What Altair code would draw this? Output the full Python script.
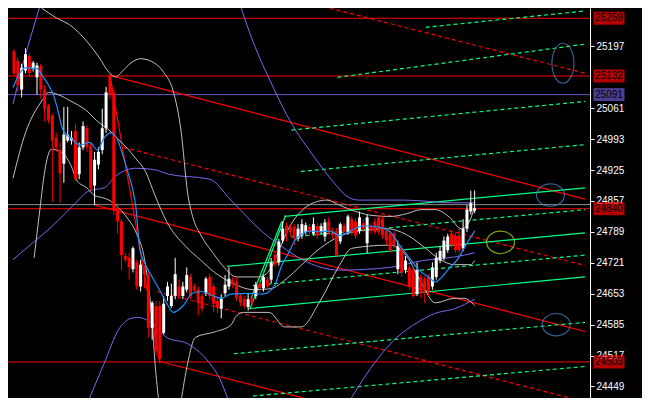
import altair as alt
import pandas as pd

# ---------------- candles (index, OHLC) ----------------
opens = [25186,25165,25102,25144,25176,25148,25129,25155,25102,25066,25045,24996,24969,24939,24990,24990,25011,24916,24975,25017,
         24979,24891,24937,24969,25017,25134,25096,24842,24812,24736,24732,24707,24722,24669,24711,24694,24578,24626,24626,24567,
         24648,24626,24648,24669,24648,24662,24690,24669,24662,24648,24654,24690,24669,24637,24620,24654,24669,24684,24679,24648,
         24641,24624,24643,24648,24675,24665,24684,24684,24738,24722,24770,24802,24800,24800,24774,24781,24789,24800,24785,24802,
         24791,24779,24812,24791,24791,24768,24802,24789,24817,24812,24791,24808,24764,24802,24812,24821,24817,24791,24785,24785,
         24707,24753,24705,24711,24705,24652,24690,24686,24690,24669,24690,24726,24732,24749,24785,24781,24781,24753,24796,24834,
         24836]
highs = [25191,25172,25159,25193,25182,25165,25161,25159,25112,25070,25049,25007,24986,25064,25064,25011,25028,24986,25032,25024,
         24986,24965,24975,25060,25108,25136,25102,24848,24817,24743,24743,24757,24728,24728,24715,24700,24637,24637,24637,24648,
         24679,24675,24732,24684,24679,24711,24696,24675,24669,24654,24690,24696,24675,24643,24652,24694,24711,24690,24690,24654,
         24648,24654,24652,24679,24681,24694,24690,24732,24745,24774,24812,24810,24806,24806,24806,24817,24810,24806,24821,24808,
         24808,24817,24821,24798,24798,24810,24808,24827,24823,24819,24834,24817,24827,24808,24819,24827,24823,24798,24791,24791,
         24770,24760,24736,24717,24711,24722,24696,24692,24696,24722,24743,24757,24779,24785,24791,24787,24796,24817,24848,24880,
         24880]
lows = [25134,25096,25085,25138,25129,25142,25091,25081,25032,25028,24855,24965,24853,24897,24986,24981,24901,24905,24969,24965,
        24880,24848,24927,24960,25007,25081,24827,24785,24705,24722,24684,24700,24662,24658,24665,24557,24552,24517,24504,24563,
        24637,24622,24641,24641,24641,24656,24641,24656,24605,24614,24648,24641,24612,24610,24599,24648,24662,24665,24637,24626,
        24620,24616,24626,24641,24656,24658,24662,24675,24711,24715,24764,24768,24779,24760,24768,24774,24783,24783,24781,24774,
        24785,24768,24783,24774,24736,24762,24783,24783,24783,24774,24785,24789,24743,24785,24783,24783,24774,24760,24743,24753,
        24696,24690,24698,24662,24643,24648,24643,24633,24648,24662,24684,24720,24726,24743,24753,24743,24743,24747,24789,24827,
        24830]
closes = [25138,25112,25150,25180,25138,25161,25155,25102,25060,25036,24990,24975,24918,25003,25003,24996,24905,24975,25022,24975,
          24884,24948,24965,25017,25096,25091,24838,24812,24738,24728,24711,24753,24669,24717,24696,24578,24633,24527,24510,24631,
          24669,24648,24696,24648,24669,24694,24648,24662,24633,24620,24686,24648,24631,24622,24643,24673,24686,24673,24643,24633,
          24626,24641,24633,24673,24665,24690,24669,24722,24717,24768,24796,24785,24789,24774,24796,24806,24804,24789,24806,24781,
          24802,24810,24789,24781,24738,24806,24789,24823,24789,24781,24821,24796,24821,24791,24789,24789,24781,24770,24749,24760,
          24757,24700,24726,24669,24648,24705,24654,24662,24658,24711,24732,24747,24770,24779,24760,24749,24749,24796,24838,24852,
          24841]

candles = pd.DataFrame({"i": list(range(len(opens))), "open": opens, "high": highs, "low": lows, "close": closes})
candles["dir"] = ["up" if c >= o else "down" for o, c in zip(opens, closes)]

# ---------------- moving average (blue) ----------------
ma_i = [-0.25,1.5,3,6,7.25,9,10.25,11.5,12.75,14.75,17.25,19.75,21.75,23.5,25.25,26.75,28.5,29.75,31,31.75,32.75,
        34.25,36,37.75,39.75,41.5,44,46.5,49,52,54,56.5,61.5,64.75,66.5,68,69.75,71.5,73,74.75,77.25,79.75,82.25,84.75,87.25,
        89.75,92.25,94.75,98,100.5,103,105.5,108,109.75,111.5,113,115.5,118,120]
ma_p = [25106,25138,25150,25148,25134,25112,25091,25055,25013,24996,24980,24986,24969,24996,25007,24996,24954,24918,24880,24844,
        24753,24717,24690,24664,24633,24612,24626,24654,24658,24648,24643,24652,24654,24652,24658,24673,24715,24742,24768,24783,
        24791,24789,24791,24781,24789,24800,24802,24800,24789,24759,24732,24705,24690,24679,24690,24705,24728,24764,24791]
ma = pd.DataFrame({"i": ma_i, "p": ma_p})

# ---------------- band curves (purple = slow bands, grey = fast bands) ----------------
band_grp, band_i, band_p = [], [], []
def add(name, idx, prices):
    band_grp.extend([name] * len(idx)); band_i.extend(idx); band_p.extend(prices)

add("pu_up_a", [-0.25, 2.25, 4.75, 7], [25070, 25155, 25229, 25292])
add("pu_up_b", [58.75, 62.25, 67.25, 72.25, 77.25, 81, 84, 86.5, 89.75, 101.5, 114.75, 120],
    [25292, 25208, 25112, 25028, 24965, 24922, 24891, 24869, 24859, 24859, 24853, 24853])
add("pu_mid", [-0.25, 4.75, 9.75, 13.5, 15.5, 19.75, 23.5, 26.5, 31.75, 36.5, 40.25, 51, 56.5, 64.75, 69.75, 76.5, 84.75, 98, 106.5, 114.75, 120],
    [24728, 24764, 24800, 24831, 24848, 24880, 24886, 24912, 24929, 24926, 24916, 24905, 24859, 24789, 24757, 24722, 24705, 24711, 24726, 24734, 24743])
add("pu_lo_a", [19.25, 23.5, 27.25, 30.5, 32.25, 35.5, 39.75, 45.5, 51, 53.5, 56],
    [24415, 24500, 24574, 24599, 24601, 24591, 24557, 24542, 24500, 24468, 24415])
add("pu_lo_b", [87.25, 94.75, 99.75, 104.75, 109.75, 114.75, 120],
    [24415, 24510, 24557, 24588, 24610, 24620, 24641])
add("gr_up", [7.25, 11, 14.75, 19, 22.25, 24.75, 26.5, 28.5, 30.5, 33, 36.5, 39, 41.5, 43.5, 45.25, 46.75, 48.5, 52.25, 54.75, 58, 64,
              66.75, 69.25, 71.75, 74.75, 78, 81.5, 84.75, 89, 93.5, 98, 102.25, 106, 109.75, 113.5, 116.5, 118.25, 120],
    [25281, 25260, 25243, 25208, 25172, 25140, 25130, 25145, 25161, 25170, 25161, 25140, 25098, 25013, 24874, 24817, 24785, 24738, 24711, 24690, 24690,
     24707, 24753, 24800, 24834, 24853, 24859, 24848, 24834, 24825, 24823, 24829, 24838, 24838, 24821, 24796, 24806, 24844])
add("gr_mid", [-0.25, 3, 7.25, 9, 11.5, 14.75, 19, 21.5, 24.75, 27.25, 29.75, 31.75, 34.25, 36.75, 39.75, 44.75, 48.5, 52.25, 57.25, 62.25,
               66.75, 71, 74.75, 79.75, 84.75, 89.75, 97.25, 102.25, 107.25, 111, 114.75, 119, 120],
    [24907, 25007, 25077, 25096, 25091, 25077, 25055, 25034, 25013, 24992, 24971, 24950, 24922, 24869, 24812, 24757, 24728, 24700, 24675, 24662,
     24664, 24686, 24715, 24753, 24779, 24791, 24796, 24783, 24753, 24728, 24717, 24717, 24726])
add("gr_lo", [5.25, 6.75, 8, 9.75, 12.25, 14.75, 16.5, 19, 21, 22.75, 24.75, 27.25, 29.75, 31.75, 34.25, 36, 36.75, 37.75],
    [24732, 24838, 24922, 24971, 24965, 24937, 24901, 24886, 24869, 24865, 24859, 24842, 24817, 24789, 24717, 24591, 24500, 24415])
add("gr_lo_b", [43.5, 45.25, 47.25, 52.25, 56.5, 58, 59.75, 66.5, 70.5, 74.75, 79.75, 84.75, 88, 98, 102.25, 106, 109.75, 114.75, 117.25, 120],
    [24415, 24500, 24557, 24569, 24584, 24605, 24612, 24612, 24580, 24580, 24637, 24715, 24753, 24760, 24736, 24679, 24633, 24643, 24643, 24627])
band_col = {"pu": "#7b68ee", "gr": "#c0c0c0"}
bands = pd.DataFrame({"g": band_grp, "i": band_i, "p": band_p})
bands["c"] = [band_col[g[:2]] for g in band_grp]

# ---------------- straight objects (trend lines / channels) ----------------
seg_i1 = [24.75, 25.0, 21.0, 38.0, 82.25, 28.5, 37.25,
          70.5, 55.5, 61.0, 61.5, 61.75,
          107.25, 84.25, 72.25, 74.75, 72.25, 62.25, 57.25, 62.25]
seg_p1 = [25134, 25134, 24848, 24504, 25281, 24975, 24658,
          24823, 24713, 24620, 24620, 24643,
          25239, 25129, 25013, 24922, 24778, 24671, 24521, 24428]
seg_i2 = [148.75, 38.0, 148.75, 148.75, 148.75, 148.75, 148.75,
          148.75, 148.75, 148.75, 70.75, 69.75,
          148.75, 148.75, 148.75, 148.75, 148.75, 148.75, 148.75, 148.75]
seg_p2 = [24861, 24500, 24570, 24266, 25138, 24715, 24415,
          24886, 24787, 24690, 24825, 24812,
          25275, 25202, 25076, 24981, 24838, 24738, 24590, 24493]
seg_kind = ["red", "red", "red", "red", "reddash", "reddash", "reddash",
            "green", "green", "green", "green", "green",
            "greendash", "greendash", "greendash", "greendash", "greendash", "greendash", "greendash", "greendash"]
segs = pd.DataFrame({"i1": seg_i1, "p1": seg_p1, "i2": seg_i2, "p2": seg_p2, "kind": seg_kind})

# ---------------- horizontal levels ----------------
lvl_p = [25259, 25132, 25091, 24849, 24840, 24503]
lvl_c = ["#ff0000", "#ff0000", "#6a5acd", "#8c8c8c", "#ff0000", "#ff0000"]
levels = pd.DataFrame({"p": lvl_p, "c": lvl_c})

# price tags on the axis
tag_p = [25259, 25132, 25091, 24840, 24503]
tag_t = ["25259", "25132", "25091", "24840", "24503"]
tag_c = ["#ff0000", "#ff0000", "#6a5acd", "#ff0000", "#ff0000"]
tags = pd.DataFrame({"p": tag_p, "t": tag_t, "c": tag_c})

# ellipses
ell_i = [143.0, 139.75, 126.75, 141.25]
ell_p = [25160, 24870, 24766, 24585]
ell_c = ["#4a86c8", "#4a86c8", "#b4e61e", "#4a86c8"]
ell_s = ["tall", "wide", "wide", "wide"]
ells = pd.DataFrame({"i": ell_i, "p": ell_p, "c": ell_c, "s": ell_s})

tick_vals = [24449, 24517, 24585, 24653, 24721, 24789, 24857, 24925, 24993, 25061, 25197]

W, H = 582, 390
xs = alt.Scale(domain=[-0.25, 148.75], nice=False, zero=False)
ys = alt.Scale(domain=[24423.7, 25281.5], nice=False, zero=False)
AX = alt.Axis(orient="right", values=tick_vals, format="d", labelColor="white",
              labelFont="Liberation Sans", labelFontSize=10, tickColor="white",
              domainColor="white", tickSize=4, labelPadding=2, grid=False, title=None,
              labelBaseline="middle", labelFlush=False, labelOverlap=False)
X = alt.X("i:Q", scale=xs, axis=None)
def Yq(field):
    return alt.Y(field, scale=ys, axis=AX)

lv = alt.Chart(levels).mark_rule(strokeWidth=1, clip=True).encode(
    y=Yq("p:Q"), color=alt.Color("c:N", scale=None))

seg_styles = {
    "red": dict(color="#ff0000", strokeWidth=1.2),
    "reddash": dict(color="#ff0000", strokeWidth=1.2, strokeDash=[4, 3]),
    "green": dict(color="#00ff80", strokeWidth=1.2),
    "greendash": dict(color="#00ff80", strokeWidth=1.2, strokeDash=[4, 3]),
}
seg_layers = []
for k, st in seg_styles.items():
    seg_layers.append(
        alt.Chart(segs).transform_filter(alt.datum.kind == k).mark_rule(clip=True, **st).encode(
            x=alt.X("i1:Q", scale=xs, axis=None), x2="i2:Q",
            y=Yq("p1:Q"), y2="p2:Q"))

band_lines = alt.Chart(bands).mark_line(strokeWidth=1, clip=True, interpolate="monotone").encode(
    x=X, y=Yq("p:Q"), detail="g:N", color=alt.Color("c:N", scale=None))

ma_line = alt.Chart(ma).mark_line(color="#1e90ff", strokeWidth=1.2, clip=True, interpolate="monotone").encode(x=X, y=Yq("p:Q"))

cscale = alt.Scale(domain=["up", "down"], range=["#ffffff", "#ff0000"])
wick = alt.Chart(candles).mark_rule(strokeWidth=1, clip=True).encode(
    x=X, y=Yq("low:Q"), y2="high:Q",
    color=alt.Color("dir:N", scale=cscale, legend=None))
body = alt.Chart(candles).mark_bar(width=3, clip=True).encode(
    x=X, y=Yq("open:Q"), y2="close:Q",
    color=alt.Color("dir:N", scale=cscale, legend=None))

tall = "M -0.55 0 A 0.55 1 0 1 0 0.55 0 A 0.55 1 0 1 0 -0.55 0 Z"
wide = "M -1 0 A 1 0.8 0 1 0 1 0 A 1 0.8 0 1 0 -1 0 Z"
e1 = alt.Chart(ells).transform_filter(alt.datum.s == "tall").mark_point(shape=tall, size=1600, filled=False, strokeWidth=1.2).encode(
    x=X, y=Yq("p:Q"), color=alt.Color("c:N", scale=None))
e2 = alt.Chart(ells).transform_filter(alt.datum.s == "wide").mark_point(shape=wide, size=780, filled=False, strokeWidth=1.2).encode(
    x=X, y=Yq("p:Q"), color=alt.Color("c:N", scale=None))

tag_box = alt.Chart(tags).mark_tick(orient="horizontal", size=31, thickness=13).encode(
    y=Yq("p:Q"), x=alt.value(W + 19), color=alt.Color("c:N", scale=None))
tag_txt = alt.Chart(tags).mark_text(align="left", baseline="middle", font="Liberation Sans", fontSize=10, color="black").encode(
    y=Yq("p:Q"), x=alt.value(W + 5), text="t:N")

chart = alt.layer(lv, *seg_layers, band_lines, wick, body, ma_line, e1, e2, tag_box, tag_txt).properties(
    width=W, height=H, background="black",
    padding={"left": 0, "top": 0, "right": 52, "bottom": 0},
    autosize=alt.AutoSizeParams(type="none")
).configure_view(stroke=None)

chart.save("out.html", embed_options={"renderer": "svg", "actions": False})
